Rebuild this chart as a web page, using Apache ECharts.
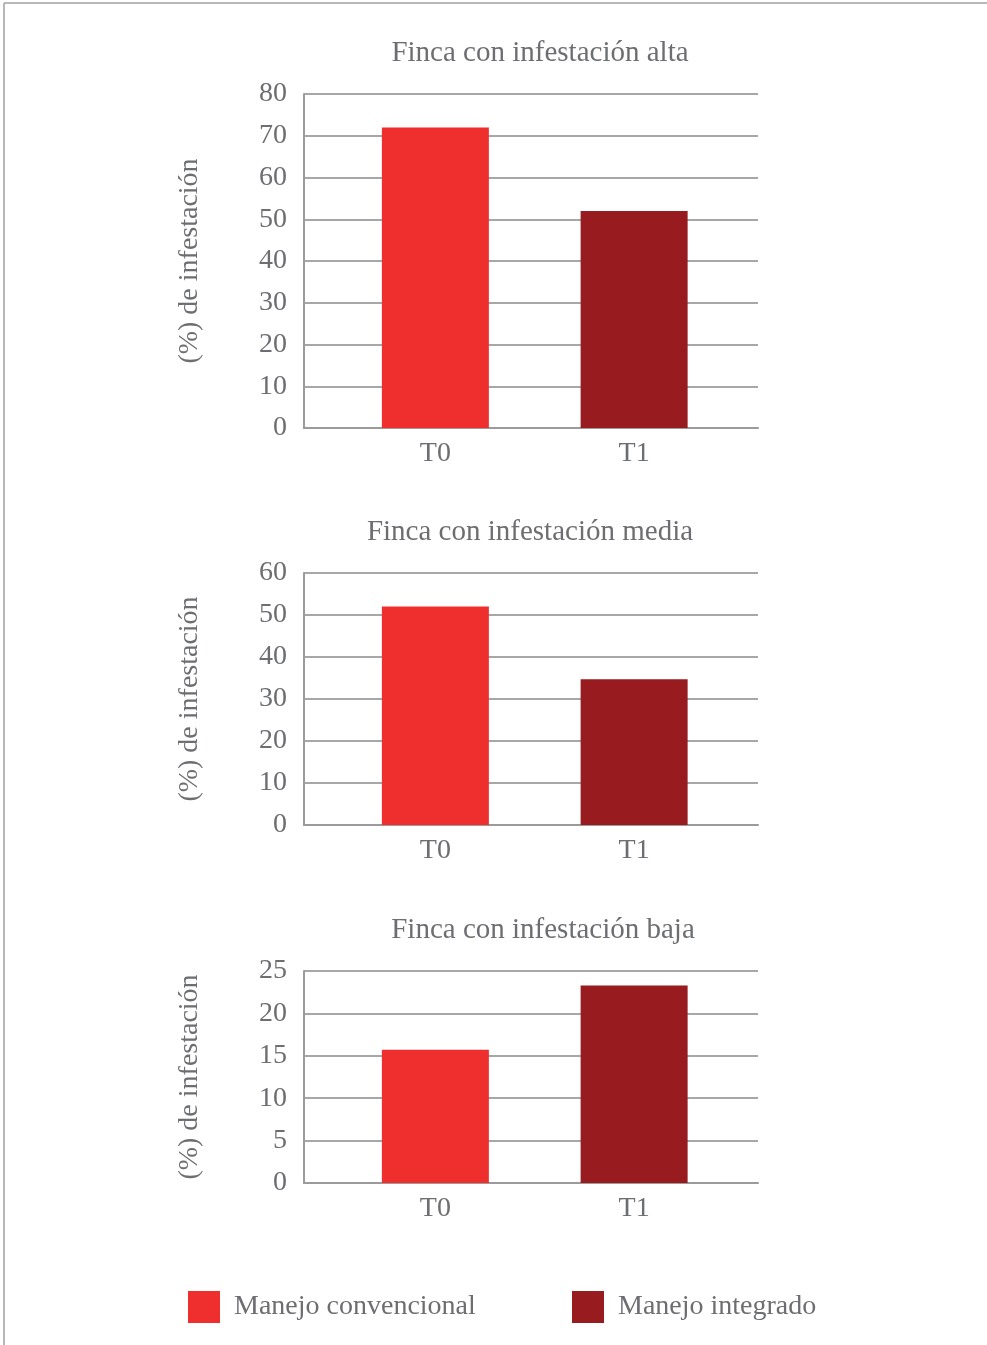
<!DOCTYPE html>
<html>
<head>
<meta charset="utf-8">
<script src="https://cdn.jsdelivr.net/npm/echarts@6/dist/echarts.min.js"></script>
<style>
  html, body { margin: 0; padding: 0; background: #fff; }
  #chart { width: 987px; height: 1345px; }
</style>
</head>
<body>
<div id="chart"></div>
<script>
// Panel data: one entry per farm (alta, media, baja)
const panelTitles = ['Finca con infestación alta', 'Finca con infestación media', 'Finca con infestación baja'];
const categories = ['T0', 'T1'];
const seriesNames = ['Manejo convencional', 'Manejo integrado'];
const convencional = [72, 52, 15.7];   // T0
const integrado = [52, 34.7, 23.3];    // T1
const axisMax = [80, 60, 25];
const axisInterval = [10, 10, 5];
const axisName = '(%) de infestación';

const FONT = 'Liberation Serif';
const TEXT = '#6d6e71';
const GRID_LINE = '#a7a7a7';
const AXIS_LINE = '#9b9b9b';
const COLORS = ['#ee2f2e', '#981b1f'];

// Panel geometry (pixels)
const panelTop = [94, 573, 971];
const panelBottom = [428, 825, 1183];
const titleY = [53, 532, 930];
const titleX = [540, 530, 543];
const H = 1345;

const grids = [], xAxes = [], yAxes = [], series = [], graphics = [];

panelTitles.forEach((t, i) => {
  const top = panelTop[i];
  const bottom = H - panelBottom[i];
  // frame grid: gridlines, y labels, axis lines
  grids.push({ left: 304, right: 229, top: top, bottom: bottom });
  // bar grid: holds the two bars and category labels
  grids.push({ left: 336, right: 253.5, top: top, bottom: bottom });
  const g0 = i * 2, g1 = i * 2 + 1;

  xAxes.push({
    gridIndex: g0, type: 'category', data: categories,
    axisLine: { show: true, lineStyle: { color: AXIS_LINE, width: 2 } },
    axisTick: { show: false }, axisLabel: { show: false }, splitLine: { show: false }
  });
  xAxes.push({
    gridIndex: g1, type: 'category', data: categories,
    axisLine: { show: false }, axisTick: { show: false },
    axisLabel: { color: TEXT, fontFamily: FONT, fontSize: 28, margin: 12 }
  });
  yAxes.push({
    gridIndex: g0, type: 'value', min: 0, max: axisMax[i], interval: axisInterval[i],
    name: axisName, nameLocation: 'middle', nameGap: 100, nameRotate: 90,
    nameTextStyle: { color: TEXT, fontFamily: FONT, fontSize: 28 },
    axisLine: { show: true, lineStyle: { color: AXIS_LINE, width: 2 } },
    axisTick: { show: false },
    axisLabel: { color: TEXT, fontFamily: FONT, fontSize: 28, margin: 17, padding: [2, 0, 0, 0] },
    splitLine: { show: true, lineStyle: { color: GRID_LINE, width: 2 } }
  });
  yAxes.push({
    gridIndex: g1, type: 'value', min: 0, max: axisMax[i], interval: axisInterval[i],
    show: false, splitLine: { show: false }
  });

  series.push({
    name: seriesNames[0], type: 'bar', xAxisIndex: g1, yAxisIndex: g1,
    data: [convencional[i], '-'], barWidth: 107, barGap: '-100%',
    itemStyle: { color: COLORS[0] }, z: 3
  });
  series.push({
    name: seriesNames[1], type: 'bar', xAxisIndex: g1, yAxisIndex: g1,
    data: ['-', integrado[i]], barWidth: 107, barGap: '-100%',
    itemStyle: { color: COLORS[1] }, z: 3
  });

  graphics.push({
    type: 'text', x: titleX[i], y: titleY[i],
    style: { text: t, fill: TEXT, font: '29px "' + FONT + '"', textAlign: 'center', textVerticalAlign: 'middle' }
  });
});

// page border (left and top rules)
graphics.push({ type: 'line', shape: { x1: 4, y1: 3, x2: 4, y2: H }, style: { stroke: '#a0a0a0', lineWidth: 1.5 } });
graphics.push({ type: 'line', shape: { x1: 4, y1: 3, x2: 987, y2: 3 }, style: { stroke: '#a0a0a0', lineWidth: 1.5 } });

const legendBase = {
  orient: 'horizontal', top: 1291, padding: 0, icon: 'rect', itemWidth: 32, itemHeight: 32,
  textStyle: { color: TEXT, fontFamily: FONT, fontSize: 28, padding: [0, 0, 0, 9] },
  selectedMode: false
};

const chart = echarts.init(document.getElementById('chart'));
chart.setOption({
  animation: false,
  backgroundColor: '#fff',
  grid: grids,
  xAxis: xAxes,
  yAxis: yAxes,
  series: series,
  legend: [
    Object.assign({}, legendBase, { left: 188, data: [seriesNames[0]] }),
    Object.assign({}, legendBase, { left: 572, data: [seriesNames[1]] })
  ],
  graphic: graphics
});
</script>
</body>
</html>
